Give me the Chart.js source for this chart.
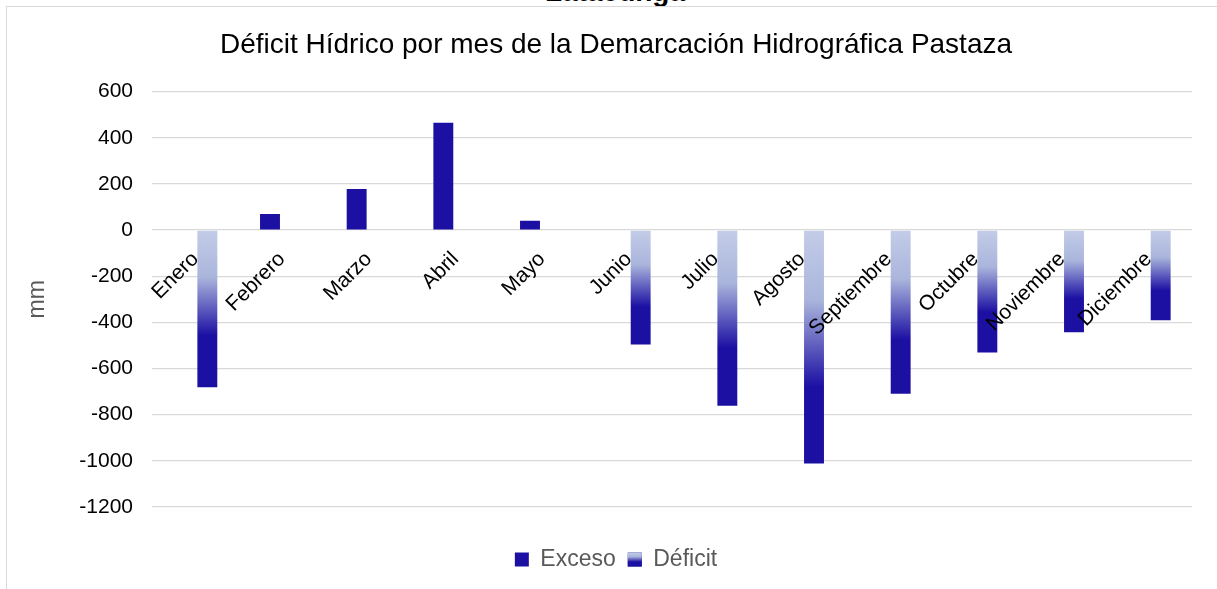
<!DOCTYPE html>
<html>
<head>
<meta charset="utf-8">
<script src="https://cdn.jsdelivr.net/npm/chart.js@4.4.1/dist/chart.umd.min.js"></script>
<style>
  html, body { margin: 0; padding: 0; background: #fff; overflow: hidden; }
  body { width: 1217px; height: 589px; position: relative; font-family: "Liberation Sans", Arial, sans-serif; }
  #wrap { position: absolute; left: 0; top: 0; width: 1232px; height: 589px; }
  .frame { position: absolute; left: 6px; top: 6px; width: 1300px; height: 700px;
           border-left: 1.5px solid #d9d9d9; border-top: 1.5px solid #d9d9d9; pointer-events: none; }
  .cut-title { position: absolute; left: 0; width: 1230px; top: -22px; line-height: 28px;
               text-align: center; font-size: 28px; font-weight: bold; color: #000; }
</style>
</head>
<body>
<div class="cut-title">Latacunga</div>
<div class="frame"></div>
<div id="wrap"><canvas id="chart"></canvas></div>
<script>
const meses = ['Enero', 'Febrero', 'Marzo', 'Abril', 'Mayo', 'Junio', 'Julio', 'Agosto',
               'Septiembre', 'Octubre', 'Noviembre', 'Diciembre'];
const exceso = [0, 70, 178, 465, 40, 0, 0, 0, 0, 0, 0, 0];
const deficit = [-681, 0, 0, 0, 0, -496, -761, -1012, -709, -530, -443, -391];
const yTicks = [600, 400, 200, 0, -200, -400, -600, -800, -1000, -1200];

const azul = '#1c10a3';
const claro = '#c3cce7';
const medio = '#aab5dc';
const fuente = '"Liberation Sans", Arial, sans-serif';

const fillGradient = (ctx, top, bottom) => {
    const g = ctx.createLinearGradient(0, top, 0, bottom);
    g.addColorStop(0, claro);
    g.addColorStop(0.3, medio);
    g.addColorStop(0.67, azul);
    g.addColorStop(1, azul);
    return g;
};

const deficitColor = context => {
    const chart = context.chart;
    if (!chart.chartArea || context.type !== 'data') return azul;
    const yScale = chart.scales.y;
    const y0 = yScale.getPixelForValue(0);
    const y1 = yScale.getPixelForValue(context.raw);
    if (Math.abs(y1 - y0) < 1) return azul;
    return fillGradient(chart.ctx, y0, y1);
};

// legend box for Déficit gets the same gradient
const legendGradient = {
    id: 'legendGradient',
    afterDraw(chart) {
        const legend = chart.legend;
        if (!legend || !legend.legendHitBoxes) return;
        const hb = legend.legendHitBoxes[1];
        const opts = legend.options.labels;
        const fontSize = opts.font.size;
        const top = hb.top + Math.max((fontSize - opts.boxHeight) / 2, 0);
        const ctx = chart.ctx;
        ctx.save();
        ctx.fillStyle = fillGradient(ctx, top, top + opts.boxHeight);
        ctx.fillRect(hb.left, top, opts.boxWidth, opts.boxHeight);
        ctx.restore();
    }
};

new Chart(document.getElementById('chart'), {
    type: 'bar',
    data: {
        labels: meses,
        datasets: [{
            label: 'Exceso',
            data: exceso,
            xAxisID: 'x',
            backgroundColor: azul,
            barPercentage: 0.83,
            categoryPercentage: 0.554
        }, {
            label: 'Déficit',
            data: deficit,
            xAxisID: 'x',
            backgroundColor: deficitColor,
            barPercentage: 0.83,
            categoryPercentage: 0.554
        }]
    },
    options: {
        responsive: true,
        maintainAspectRatio: false,
        animation: false,
        layout: {
            padding: { left: 40, right: 40, top: 0, bottom: 8 }
        },
        plugins: {
            title: {
                display: true,
                text: 'Déficit Hídrico por mes de la Demarcación Hidrográfica Pastaza',
                color: '#000',
                font: { family: fuente, size: 28, weight: 'normal' },
                padding: { top: 28, bottom: 30 }
            },
            legend: {
                position: 'bottom',
                labels: {
                    color: '#595959',
                    font: { family: fuente, size: 23 },
                    boxWidth: 14,
                    boxHeight: 14,
                    padding: 12
                }
            },
            tooltip: { enabled: false }
        },
        scales: {
            x: {
                position: { y: 0 },
                grid: { display: false, drawTicks: false },
                border: { display: false },
                ticks: {
                    z: 1,
                    color: '#000',
                    font: { family: fuente, size: 21 },
                    autoSkip: false,
                    minRotation: 45,
                    maxRotation: 45,
                    labelOffset: 0,
                    padding: 17
                }
            },
            // empty band that keeps the gap between plot and legend
            espacio: {
                type: 'category',
                position: 'bottom',
                grid: { display: false },
                border: { display: false },
                ticks: { display: false },
                afterFit: scale => { scale.height = 29; }
            },
            y: {
                min: -1200,
                max: 600,
                afterFit: scale => { scale.width = 112; },
                afterBuildTicks: scale => { scale.ticks = yTicks.map(v => ({ value: v })); },
                grid: { color: '#d9d9d9', lineWidth: 1.3, drawTicks: false },
                border: { display: false },
                ticks: {
                    color: '#000',
                    font: { family: fuente, size: 21 },
                    padding: 19,
                    callback: value => String(value)
                },
                title: {
                    display: true,
                    text: 'mm',
                    color: '#595959',
                    font: { family: fuente, size: 23 },
                    padding: { top: -16, bottom: 0 }
                }
            }
        }
    },
    plugins: [legendGradient]
});
</script>
</body>
</html>
